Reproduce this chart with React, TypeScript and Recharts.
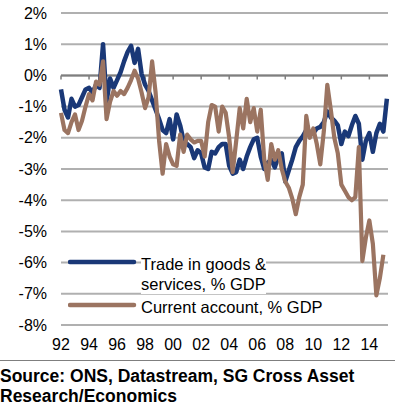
import { LineChart, Line, XAxis, YAxis, CartesianGrid, ReferenceLine, Legend } from 'recharts'

// quarterly, first point = 1992 Q1
const START_YEAR = 1992

const trade = [
  -0.45, -1.1, -1.35, -0.75, -1.0, -0.95, -0.7, -0.45, -0.4, -0.55,
  -0.3, -0.4, 1.0, -0.85, -0.1, -0.4, -0.15, 0.1, 0.45, 0.75,
  0.95, 0.4, 0.85, 0.05, -0.3, -0.5, -0.8, -1.1, -1.4, -1.75,
  -1.85, -1.4, -2.05, -1.25, -1.6, -2.1, -2.2, -2.3, -2.65, -2.4,
  -2.5, -2.95, -3.0, -2.45, -2.5, -2.3, -2.2, -2.2, -2.9, -3.15,
  -3.1, -2.7, -3.0, -2.6, -2.3, -2.05, -2.0, -2.6, -3.0, -2.8,
  -2.7, -2.95, -2.6, -2.5, -3.4, -3.05, -2.7, -2.3, -2.1, -1.95,
  -1.75, -1.9, -1.85, -1.7, -1.65, -1.5, -1.15, -1.35, -1.45, -1.6,
  -2.2, -1.8, -1.95, -1.6, -1.3, -1.55, -2.7, -2.1, -1.85, -2.45,
  -1.85, -1.55, -1.8, -0.75,
]

const currentAccount = [
  -1.2, -1.75, -1.85, -1.5, -1.25, -1.75, -1.45, -1.0, -0.6, -0.8,
  -0.2, -0.3, 0.45, -1.4, -0.85, -0.5, -0.65, -0.5, -0.6, -0.4,
  -0.15, 0.15, -0.1, -0.55, -1.05, -0.7, 0.45, -0.55, -2.1, -3.15,
  -2.2, -2.6, -2.85, -2.9, -1.9, -2.45, -1.9, -2.05, -2.15, -2.1,
  -2.1, -2.6, -1.5, -0.95, -1.0, -1.8, -1.0, -1.2, -2.0, -3.1,
  -2.1, -1.05, -1.7, -0.75, -1.5, -1.05, -1.8, -1.1, -2.7, -3.35,
  -2.2, -2.7, -2.4, -3.0, -3.4, -3.6, -3.95, -4.45, -3.9, -3.5,
  -1.3, -2.0, -1.7, -2.2, -2.85, -1.8, -0.3, -1.1, -2.0, -2.5,
  -3.5, -3.7, -3.9, -4.0, -3.9, -2.3, -5.95, -5.2, -4.65, -5.4,
  -7.05, -6.5, -5.75,
]

const xTicks = [1992, 1994, 1996, 1998, 2000, 2002, 2004, 2006, 2008, 2010, 2012, 2014]
const yTicks = [-8, -7, -6, -5, -4, -3, -2, -1, 0, 1, 2]
const legendOrder = ['trade', 'ca']

const BLUE = '#1a3877'
const BROWN = '#9b7461'
const FONT = '"Liberation Sans", Arial, sans-serif'

const rows = trade.map((v, i) => ({
  year: START_YEAR + i / 4,
  trade: v,
  ca: currentAccount[i],
}))

function ChartLegend({ payload }: any) {
  const items = [...(payload || [])].sort(
    (a: any, b: any) => legendOrder.indexOf(a.dataKey) - legendOrder.indexOf(b.dataKey)
  )
  return (
    <div style={{ fontFamily: FONT, fontSize: 16.5, color: '#000' }}>
      {items.map((p: any, i: number) => (
        <div key={p.dataKey} style={{ display: 'flex', alignItems: 'flex-start', marginTop: i ? 3.4 : 0 }}>
          <svg width={70} height={20} style={{ display: 'block' }}>
            <line x1={2} x2={66} y1={8} y2={8} stroke={p.color} strokeWidth={4.5} strokeLinecap="round" />
          </svg>
          <span style={{ whiteSpace: 'pre-line', lineHeight: '20px', background: '#fff', marginLeft: 3 }}>{p.value}</span>
        </div>
      ))}
    </div>
  )
}

export default function App() {
  return (
    <div style={{ position: 'absolute', left: 0, top: 0, width: 395, height: 411, background: '#fff' }}>
      <LineChart width={395} height={360} data={rows} margin={{ top: 13, right: 7, bottom: 0, left: 0 }}>
        <CartesianGrid vertical={false} stroke="#b0b0b0" strokeWidth={2} />
        <XAxis
          dataKey="year"
          type="number"
          domain={[1992, 2015.33]}
          ticks={xTicks}
          tickFormatter={(y: number) => String(y % 100).padStart(2, '0')}
          axisLine={false}
          tickLine={false}
          tickMargin={8}
          height={35}
          tick={{ fill: '#000', fontSize: 16, fontFamily: FONT }}
        />
        <YAxis
          type="number"
          domain={[-8, 2]}
          ticks={yTicks}
          tickFormatter={(v: number) => `${v}%`}
          axisLine={false}
          tickLine={false}
          tickMargin={8}
          width={61}
          tick={{ fill: '#000', fontSize: 16, fontFamily: FONT }}
        />
        <ReferenceLine y={0} stroke="#7f7f7f" strokeWidth={2} />
        {xTicks.map(t => (
          <ReferenceLine
            key={t}
            segment={[{ x: t, y: 0 }, { x: t, y: -0.13 }]}
            stroke="#7f7f7f"
            strokeWidth={1.5}
            ifOverflow="visible"
          />
        ))}
        <Legend
          layout="vertical"
          align="center"
          verticalAlign="middle"
          content={<ChartLegend />}
          wrapperStyle={{ position: 'absolute', left: 68, top: 253.6, width: 270, height: 'auto' }}
        />
        <Line
          dataKey="trade"
          name={'Trade in goods &\nservices, % GDP'}
          stroke={BLUE}
          strokeWidth={4.5}
          strokeLinejoin="round"
          dot={false}
          activeDot={false}
          isAnimationActive={false}
        />
        <Line
          dataKey="ca"
          name="Current account, % GDP"
          stroke={BROWN}
          strokeWidth={4.2}
          strokeLinejoin="round"
          dot={false}
          activeDot={false}
          isAnimationActive={false}
        />
      </LineChart>
      <div style={{ position: 'absolute', left: 0, top: 360, width: 395, height: 1, background: '#7f7f7f' }} />
      <div
        style={{
          position: 'absolute', left: 0, top: 366, width: 395,
          fontFamily: FONT, fontWeight: 'bold', fontSize: 17.5, lineHeight: '20px', color: '#000',
        }}
      >
        Source: ONS, Datastream, SG Cross Asset<br />Research/Economics
      </div>
    </div>
  )
}
